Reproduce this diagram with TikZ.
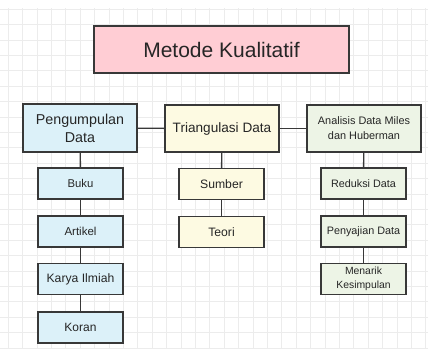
\documentclass[tikz,border=0pt]{standalone}
\usepackage{fontspec}
\setmainfont{Liberation Sans}
\definecolor{edge}{HTML}{383838}
\definecolor{gridc}{HTML}{ECECEC}
\definecolor{pinkf}{HTML}{FFCDD4}
\definecolor{bluef}{HTML}{DCF1F9}
\definecolor{yelf}{HTML}{FDFAE2}
\definecolor{greenf}{HTML}{EDF4E6}
\tikzset{
  box/.style={draw=edge, line width=1.4pt, align=center, inner sep=0pt, text=black!85},
  conn/.style={draw=edge, line width=1.4pt},
}
\begin{document}
\begin{tikzpicture}[x=1pt,y=-1pt]
\useasboundingbox (0,0) rectangle (428,349);
\fill[white] (0,0) rectangle (428,349);
\foreach \i in {0,...,29} { \draw[gridc, line width=0.6pt] (8+14.4*\i,8) -- (8+14.4*\i,349); }
\foreach \j in {0,...,22} { \draw[gridc, line width=0.6pt] (0,9+15.4*\j) -- (428,9+15.4*\j); }

\node[box, fill=pinkf, minimum width=255pt, minimum height=47pt, font=\fontsize{21}{24}\selectfont] (title) at (221.5,49.5) {Metode Kualitatif};

\node[box, fill=bluef, minimum width=114pt, minimum height=48pt, font=\fontsize{14.3}{18}\selectfont] (pd) at (80,128) {Pengumpulan\\Data};
\node[box, fill=yelf, minimum width=114pt, minimum height=47pt, font=\fontsize{13.6}{15}\selectfont] (td) at (222,128.5) {Triangulasi Data};
\node[box, fill=greenf, minimum width=114pt, minimum height=47pt, font=\fontsize{10.9}{15}\selectfont] (ad) at (364,128.5) {Analisis Data Miles\\dan Huberman};

\node[box, fill=bluef, minimum width=85pt, minimum height=31pt, font=\fontsize{11.3}{13}\selectfont] (buku) at (80.5,183.5) {Buku};
\node[box, fill=bluef, minimum width=85pt, minimum height=31pt, font=\fontsize{11.5}{13}\selectfont] (art) at (80.5,231.5) {Artikel};
\node[box, fill=bluef, minimum width=85pt, minimum height=31pt, font=\fontsize{12.2}{14}\selectfont] (kar) at (80.5,279) {Karya Ilmiah};
\node[box, fill=bluef, minimum width=85pt, minimum height=31pt, font=\fontsize{12}{14}\selectfont] (kor) at (80.5,327.5) {Koran};

\node[box, fill=yelf, minimum width=85pt, minimum height=31pt, font=\fontsize{12.2}{14}\selectfont] (sum) at (221.5,184) {Sumber};
\node[box, fill=yelf, minimum width=85pt, minimum height=31pt, font=\fontsize{12.2}{14}\selectfont] (teo) at (221.5,232) {Teori};

\node[box, fill=greenf, minimum width=85pt, minimum height=31pt, font=\fontsize{10.8}{12}\selectfont] (red) at (363.5,183.5) {Reduksi Data};
\node[box, fill=greenf, minimum width=85pt, minimum height=31pt, font=\fontsize{10.8}{12}\selectfont] (pen) at (363.5,231.5) {Penyajian Data};
\node[box, fill=greenf, minimum width=85pt, minimum height=31pt, font=\fontsize{10.4}{13.5}\selectfont] (men) at (363.5,279) {Menarik\\Kesimpulan};

\draw[conn] (pd) -- (td);
\draw[conn] (td) -- (ad);
\draw[conn] (pd) -- (buku);
\draw[conn] (buku) -- (art);
\draw[conn] (art) -- (kar);
\draw[conn] (kar) -- (kor);
\draw[conn] (td) -- (sum);
\draw[conn] (sum) -- (teo);
\draw[conn] (ad) -- (red);
\draw[conn] (red) -- (pen);
\draw[conn] (pen) -- (men);
\end{tikzpicture}
\end{document}
